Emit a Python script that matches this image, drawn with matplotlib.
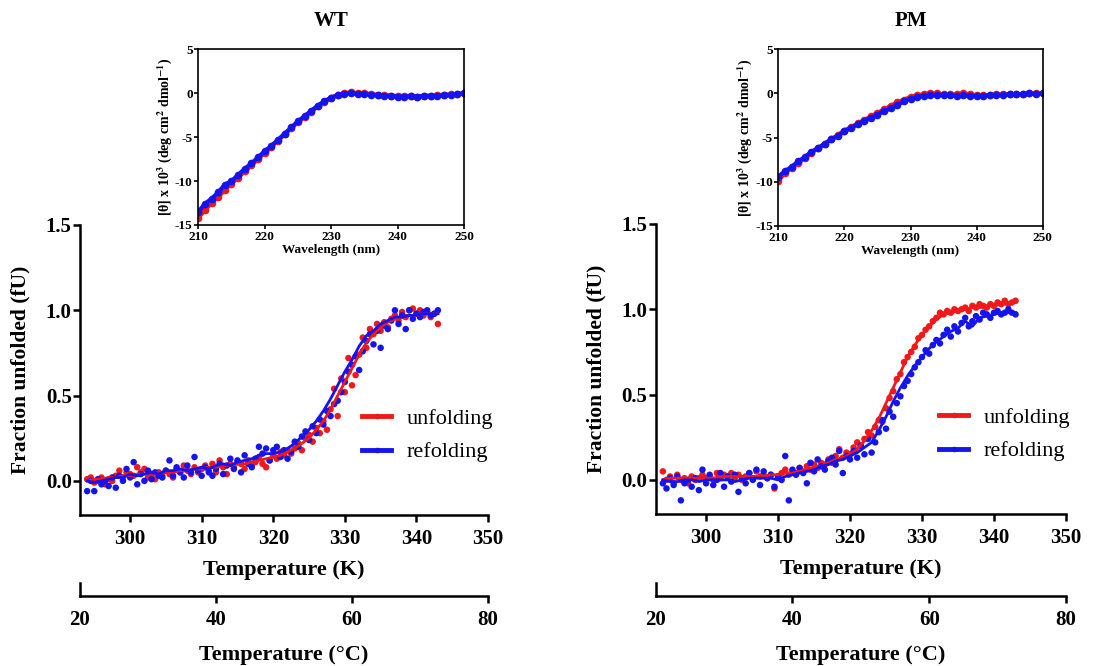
import matplotlib
matplotlib.use("Agg")
import matplotlib.pyplot as plt
from matplotlib.lines import Line2D

plt.rcParams['font.family'] = ['Liberation Serif', 'DejaVu Serif']
plt.rcParams['font.weight'] = 'bold'
plt.rcParams['mathtext.fontset'] = 'stix'
plt.rcParams['axes.unicode_minus'] = False

RED = '#f01818'
BLUE = '#1414f0'

# temperature grid of the melt data (K), 0.5 K steps
temp_pts = [294 + 0.5 * i for i in range(99)]
# temperature grid of the smoothed curves (K), 1 K steps
temp_fit = [294 + i for i in range(50)]

# ---- WT thermal melt ----
wt_unf = [0.01, 0.02, -0.01, 0.00, 0.02, -0.02, 0.01, 0.00, 0.03, 0.06, 0.02, 0.05, 0.04,
          0.03, 0.08, 0.05, 0.07, 0.02, 0.04, 0.01, 0.05, 0.03, 0.06,
          0.04, 0.02, 0.07, 0.05, 0.09, 0.06, 0.04, 0.08, 0.05, 0.07,
          0.09, 0.06, 0.10, 0.05, 0.12, 0.08, 0.04, 0.10, 0.08, 0.11,
          0.10, 0.07, 0.12, 0.09, 0.11, 0.14, 0.10, 0.08, 0.12, 0.15,
          0.13, 0.17, 0.15, 0.18, 0.16, 0.19, 0.22, 0.18, 0.25, 0.27,
          0.23, 0.31, 0.28, 0.35, 0.30, 0.42, 0.54, 0.38, 0.60, 0.52,
          0.72, 0.56, 0.62, 0.74, 0.84, 0.78, 0.89, 0.86, 0.92, 0.88,
          0.93, 0.90, 0.95, 0.97, 0.94, 0.99, 0.96, 1.00, 1.01, 0.98,
          1.00, 0.97, 0.99, 0.96, 0.98, 0.92]
wt_ref = [-0.06, 0.00, -0.06, 0.01, -0.02, 0.00, -0.03, 0.02, -0.04, 0.03, 0.00, 0.07, 0.02,
          0.11, -0.02, 0.04, 0.00, 0.06, 0.01, 0.05, 0.03, 0.02, 0.06,
          0.12, 0.03, 0.08, 0.05, 0.02, 0.09, 0.05, 0.14, 0.06, 0.03,
          0.08, 0.05, 0.03, 0.07, 0.10, 0.04, 0.09, 0.13, 0.07, 0.12,
          0.05, 0.15, 0.10, 0.08, 0.13, 0.20, 0.16, 0.19, 0.12, 0.18,
          0.20, 0.14, 0.18, 0.13, 0.17, 0.23, 0.20, 0.26, 0.29, 0.24,
          0.32, 0.28, 0.36, 0.33, 0.41, 0.38, 0.45, 0.47, 0.52, 0.58,
          0.64, 0.68, 0.73, 0.65, 0.76, 0.82, 0.86, 0.80, 0.88, 0.78,
          0.91, 0.89, 0.94, 1.00, 0.92, 0.97, 0.89, 1.00, 0.95, 0.98,
          0.96, 0.99, 1.00, 0.97, 0.98, 1.00]
wt_unf_fit = [0.00, 0.01, 0.01, 0.02, 0.02, 0.03, 0.03, 0.04, 0.04, 0.04,
              0.05, 0.05, 0.05, 0.06, 0.06, 0.07, 0.07, 0.08, 0.08, 0.09,
              0.09, 0.10, 0.10, 0.11, 0.12, 0.13, 0.14, 0.15, 0.17, 0.19,
              0.22, 0.25, 0.30, 0.35, 0.42, 0.50, 0.58, 0.66, 0.74, 0.81,
              0.86, 0.90, 0.93, 0.95, 0.96, 0.97, 0.97, 0.98, 0.98, 0.98]
wt_ref_fit = [0.00, -0.01, 0.00, 0.01, 0.02, 0.02, 0.04, 0.03, 0.04, 0.05,
              0.04, 0.06, 0.06, 0.07, 0.06, 0.07, 0.08, 0.07, 0.09, 0.10,
              0.09, 0.11, 0.12, 0.13, 0.15, 0.16, 0.16, 0.17, 0.19, 0.22,
              0.26, 0.30, 0.35, 0.41, 0.48, 0.56, 0.64, 0.71, 0.79, 0.85,
              0.88, 0.92, 0.94, 0.96, 0.96, 0.97, 0.97, 0.98, 0.98, 0.98]

# ---- PM thermal melt ----
pm_unf = [0.05, 0.00, 0.02, -0.02, 0.03, 0.00, 0.01, -0.02, 0.02, 0.00, 0.01, 0.03, 0.01,
          0.02, 0.00, 0.04, 0.01, 0.03, 0.02, 0.04, 0.01, 0.03, 0.00,
          0.02, 0.04, 0.01, 0.05, 0.02, 0.03, 0.01, 0.03, -0.05, 0.02,
          0.04, 0.06, 0.03, 0.05, 0.04, 0.07, 0.05, 0.08, 0.06, 0.09,
          0.07, 0.10, 0.09, 0.12, 0.10, 0.14, 0.18, 0.13, 0.16, 0.15,
          0.19, 0.22, 0.20, 0.24, 0.28, 0.26, 0.31, 0.35, 0.34, 0.42,
          0.48, 0.52, 0.59, 0.62, 0.69, 0.72, 0.75, 0.78, 0.83, 0.85,
          0.88, 0.90, 0.93, 0.95, 0.98, 0.97, 0.99, 0.98, 1.00, 0.99,
          1.00, 1.01, 0.99, 1.02, 1.01, 1.03, 1.02, 1.01, 1.03, 1.02,
          1.04, 1.03, 1.05, 1.03, 1.04, 1.05]
pm_ref = [-0.02, -0.05, 0.01, -0.03, 0.02, -0.12, -0.02, 0.00, -0.04, 0.01, -0.06, 0.06, -0.02,
          0.03, -0.03, 0.00, 0.04, -0.04, 0.02, -0.01, 0.03, -0.07, 0.01,
          -0.02, 0.04, 0.00, 0.06, -0.03, 0.05, 0.01, 0.03, -0.04, 0.02,
          0.00, 0.14, -0.12, 0.06, 0.03, 0.07, 0.04, -0.02, 0.10, 0.05,
          0.12, 0.08, 0.06, 0.11, 0.13, 0.09, 0.17, 0.04, 0.14, 0.12,
          0.17, 0.13, 0.20, 0.15, 0.24, 0.16, 0.22, 0.28, 0.35, 0.30,
          0.40, 0.37, 0.45, 0.49, 0.55, 0.58, 0.62, 0.66, 0.69, 0.72,
          0.76, 0.74, 0.79, 0.82, 0.80, 0.85, 0.88, 0.84, 0.90, 0.87,
          0.92, 0.95, 0.90, 0.93, 0.96, 0.94, 0.98, 0.97, 0.95, 0.98,
          0.99, 0.97, 0.98, 1.00, 0.98, 0.97]
pm_unf_fit = [0.00, 0.01, 0.01, 0.01, 0.01, 0.01, 0.01, 0.01, 0.02, 0.02,
              0.02, 0.02, 0.02, 0.02, 0.02, 0.03, 0.03, 0.04, 0.04, 0.05,
              0.06, 0.07, 0.08, 0.10, 0.12, 0.13, 0.15, 0.18, 0.23, 0.29,
              0.36, 0.45, 0.54, 0.63, 0.72, 0.79, 0.85, 0.90, 0.94, 0.97,
              0.98, 0.99, 1.00, 1.01, 1.01, 1.02, 1.02, 1.03, 1.03, 1.04]
pm_ref_fit = [0.00, -0.01, -0.01, 0.00, 0.00, -0.01, 0.00, 0.00, 0.00, 0.00,
              -0.01, 0.00, 0.01, 0.01, 0.01, 0.01, 0.00, 0.02, 0.03, 0.04,
              0.05, 0.06, 0.08, 0.09, 0.11, 0.12, 0.14, 0.16, 0.19, 0.22,
              0.29, 0.37, 0.46, 0.54, 0.61, 0.67, 0.72, 0.77, 0.81, 0.84,
              0.87, 0.89, 0.93, 0.90, 0.95, 0.96, 0.97, 0.98, 0.98, 0.98]

# ---- far-UV CD spectra (x 10^3 deg cm2 dmol-1) ----
wavelength = [210 + i for i in range(41)]
wt_cd_unf = [-14.2, -13.3, -12.5, -11.8, -11.0, -10.3, -9.6, -8.9, -8.2, -7.5,
             -6.8, -6.1, -5.4, -4.7, -4.0, -3.3, -2.7, -2.1, -1.5, -1.0,
             -0.5, -0.2, 0.0, 0.1, 0.0, 0.0, -0.1, -0.2, -0.2, -0.3,
             -0.3, -0.3, -0.3, -0.4, -0.3, -0.3, -0.2, -0.2, -0.1, -0.1, 0.0]
wt_cd_ref = [-13.5, -12.6, -12.0, -11.3, -10.4, -10.0, -9.3, -8.6, -8.0, -7.3,
             -6.6, -6.0, -5.3, -4.6, -3.9, -3.2, -2.6, -2.0, -1.4, -0.9,
             -0.5, -0.2, -0.1, 0.0, -0.1, -0.1, -0.2, -0.2, -0.3, -0.3,
             -0.4, -0.4, -0.3, -0.4, -0.3, -0.3, -0.3, -0.2, -0.2, -0.1, 0.0]
pm_cd_unf = [-9.9, -9.0, -8.4, -7.9, -7.3, -6.7, -6.2, -5.7, -5.2, -4.7,
             -4.2, -3.8, -3.4, -3.0, -2.6, -2.2, -1.8, -1.4, -1.0, -0.7,
             -0.4, -0.2, -0.1, 0.0, 0.0, -0.1, -0.1, -0.1, 0.0, -0.1,
             -0.2, -0.2, -0.2, -0.1, -0.1, -0.1, -0.1, -0.1, 0.0, 0.0, 0.0]
pm_cd_ref = [-9.4, -8.8, -8.3, -7.7, -7.2, -6.6, -6.2, -5.7, -5.2, -4.8,
             -4.3, -3.9, -3.5, -3.1, -2.8, -2.4, -2.0, -1.7, -1.3, -0.9,
             -0.6, -0.4, -0.3, -0.2, -0.2, -0.2, -0.2, -0.3, -0.2, -0.3,
             -0.3, -0.3, -0.2, -0.2, -0.2, -0.1, -0.1, -0.1, 0.0, -0.1, 0.0]

k_ticks = [300, 310, 320, 330, 340, 350]
c_ticks = [20, 40, 60, 80]
fu_ticks = [0.0, 0.5, 1.0, 1.5]

fig = plt.figure(figsize=(11.17, 6.66), dpi=100)

panels = [
    dict(title='WT', main=[0.0716, 0.2267, 0.3653, 0.4355], inset=[0.1775, 0.6622, 0.2379, 0.2638],
         unf=wt_unf, ref=wt_ref, unf_fit=wt_unf_fit, ref_fit=wt_ref_fit,
         cd_unf=wt_cd_unf, cd_ref=wt_cd_ref),
    dict(title='PM', main=[0.587, 0.2282, 0.3673, 0.4355], inset=[0.6968, 0.6607, 0.2367, 0.2653],
         unf=pm_unf, ref=pm_ref, unf_fit=pm_unf_fit, ref_fit=pm_ref_fit,
         cd_unf=pm_cd_unf, cd_ref=pm_cd_ref),
]

for p in panels:
    ax = fig.add_axes(p['main'])
    ax.scatter(temp_pts, p['unf'], s=22, color=RED, edgecolors='none', zorder=2)
    ax.scatter(temp_pts, p['ref'], s=22, color=BLUE, edgecolors='none', zorder=3)
    ax.plot(temp_fit, p['unf_fit'], color=RED, lw=2.0, zorder=4)
    ax.plot(temp_fit, p['ref_fit'], color=BLUE, lw=2.0, zorder=5)
    ax.set_xlim(293, 350)
    ax.set_ylim(-0.2, 1.5)
    ax.set_xticks(k_ticks)
    ax.set_yticks(fu_ticks)
    ax.set_yticklabels(['%.1f' % v for v in fu_ticks])
    for side in ['top', 'right']:
        ax.spines[side].set_visible(False)
    for side in ['left', 'bottom']:
        ax.spines[side].set_linewidth(1.8)
    ax.tick_params(axis='both', direction='out', length=5, width=1.8, labelsize=15)
    ax.tick_params(axis='y', pad=1)
    ax.tick_params(axis='x', pad=5)
    ax.text(0.5, -0.19, 'Temperature (K)', transform=ax.transAxes, ha='center', va='center',
            fontsize=16, fontweight='bold')
    ax.text(-0.145, 0.5, 'Fraction unfolded (fU)', transform=ax.transAxes, ha='center',
            va='center', rotation=90, fontsize=15.5, fontweight='bold')
    handles = [Line2D([], [], color=RED, lw=3.5, marker='o', markersize=3),
               Line2D([], [], color=BLUE, lw=3.5, marker='o', markersize=3)]
    ax.legend(handles, ['unfolding', 'refolding'], loc='center left',
              bbox_to_anchor=(0.67, 0.275), frameon=False, handlelength=1.3,
              handletextpad=0.7, labelspacing=0.6, borderaxespad=0,
              prop={'family': 'Liberation Serif', 'weight': 'normal', 'size': 16})

    # Celsius scale below
    l, b, w, h = p['main']
    cax = fig.add_axes([l, 0.1051, w, 0.0195])
    cax.set_xlim(20, 80)
    cax.set_xticks(c_ticks)
    cax.set_yticks([])
    cax.patch.set_visible(False)
    for side in ['top', 'right']:
        cax.spines[side].set_visible(False)
    for side in ['left', 'bottom']:
        cax.spines[side].set_linewidth(1.8)
    cax.tick_params(axis='x', direction='out', length=5, width=1.8, labelsize=15, pad=5)
    cax.xaxis.get_major_ticks()[0].tick1line.set_visible(False)
    fig.text(l + w / 2, 0.017, 'Temperature (\u00b0C)', ha='center', va='center',
             fontsize=16, fontweight='bold')

    # CD inset
    iax = fig.add_axes(p['inset'])
    iax.plot(wavelength, p['cd_unf'], color=RED, lw=3, marker='o', markersize=4.5)
    iax.plot(wavelength, p['cd_ref'], color=BLUE, lw=3, marker='o', markersize=4.5)
    iax.set_xlim(210, 250)
    iax.set_ylim(-15, 5)
    iax.set_xticks([210, 220, 230, 240, 250])
    iax.set_yticks([5, 0, -5, -10, -15])
    for side in iax.spines.values():
        side.set_linewidth(1.2)
    iax.tick_params(axis='both', direction='out', length=3, width=1.2, labelsize=9.5, pad=1)
    iax.set_xlabel('Wavelength (nm)', fontsize=9.5, fontweight='bold', labelpad=1)
    iax.set_ylabel('[\u03b8] x 10$^{\\mathbf{3}}$ (deg cm$^{\\mathbf{2}}$ dmol$^{\\mathbf{-1}}$)',
                   fontsize=10, fontweight='bold', labelpad=1)
    iax.set_title(p['title'], fontsize=15, fontweight='bold', pad=17)

fig.savefig('out.png', dpi=100)
